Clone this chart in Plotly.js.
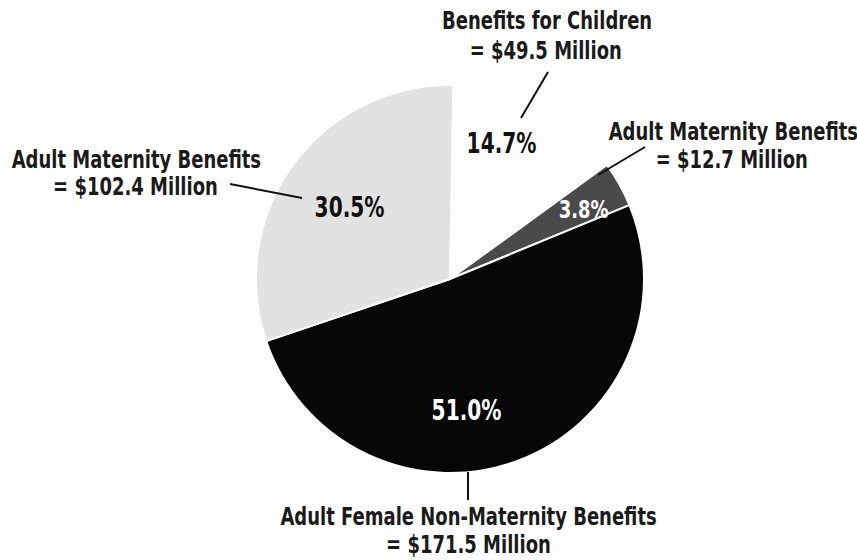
<!DOCTYPE html>
<html>
<head>
<meta charset="utf-8">
<script src="https://cdn.plot.ly/plotly-3.0.1.min.js"></script>
<style>
html,body{margin:0;padding:0;background:#fff;}
#chart{width:857px;height:560px;}
/* condensed look of the original lettering */
#chart .annotation-text{transform-box:fill-box;transform-origin:center;transform:scaleX(0.72);}
</style>
</head>
<body>
<div id="chart"></div>
<script>
// Data (clockwise order starting just right of 12 o'clock)
const labels = ["Benefits for Children", "Adult Maternity Benefits", "Adult Female Non-Maternity Benefits", "Adult Maternity Benefits"];
const valuesMillions = [49.5, 12.7, 171.5, 102.4];
const sliceColors = ["#fdfdfd", "#4a4a4a", "#060606", "#e2e2e2"];

const W = 857, H = 560;
const FONT = "DejaVu Sans, sans-serif";
const total = valuesMillions.reduce((a, b) => a + b, 0);
const pct = valuesMillions.map(v => (v / total * 100).toFixed(1) + "%");

// pie geometry (pixels)
const cx = 450, cy = 279, r = 194;
const px = x => x / W, py = y => 1 - y / H;

const trace = {
  type: "pie",
  labels: labels.map((l, i) => l + " " + i),
  values: valuesMillions,
  sort: false,
  direction: "clockwise",
  rotation: 1,
  textinfo: "none",
  hoverinfo: "label+value+percent",
  marker: { colors: sliceColors, line: { color: "#ffffff", width: 2 } },
  domain: { x: [px(cx - r), px(cx + r)], y: [py(cy + r), py(cy - r)] },
  showlegend: false
};

// label placements: line1 center, line2 center, percent center, percent size, percent color, leader line
const place = [
  { l1: [547, 21], l2: [546, 50], p: [501, 143], ps: 28, pc: "#111", lead: [[548, 72], [521, 118]] },
  { l1: [733, 131], l2: [732, 159], p: [583, 209], ps: 25, pc: "#ffffff", lead: [[645, 147], [598, 175]] },
  { l1: [468, 516], l2: [468, 544], p: [466, 410], ps: 28, pc: "#ffffff", lead: [[468, 472], [468, 500]] },
  { l1: [136, 159], l2: [135, 187], p: [349, 207], ps: 28, pc: "#111", lead: [[230, 184], [302, 198]] }
];

const annotations = [];
const shapes = [];
labels.forEach((lab, i) => {
  const pl = place[i];
  const f = { family: FONT, size: 25, color: "#1a1a1a", weight: 700 };
  annotations.push({ xref: "paper", yref: "paper", x: px(pl.l1[0]), y: py(pl.l1[1]), xanchor: "center", yanchor: "middle", showarrow: false, text: lab, font: f });
  annotations.push({ xref: "paper", yref: "paper", x: px(pl.l2[0]), y: py(pl.l2[1]), xanchor: "center", yanchor: "middle", showarrow: false, text: "= $" + valuesMillions[i].toFixed(1) + " Million", font: f });
  annotations.push({ xref: "paper", yref: "paper", x: px(pl.p[0]), y: py(pl.p[1]), xanchor: "center", yanchor: "middle", showarrow: false, text: pct[i], font: { family: FONT, size: pl.ps, color: pl.pc, weight: 700 } });
  shapes.push({ type: "line", xref: "paper", yref: "paper", x0: px(pl.lead[0][0]), y0: py(pl.lead[0][1]), x1: px(pl.lead[1][0]), y1: py(pl.lead[1][1]), line: { color: "#111", width: 2 } });
});

const layout = {
  width: W, height: H,
  margin: { l: 0, r: 0, t: 0, b: 0 },
  paper_bgcolor: "#ffffff",
  plot_bgcolor: "#ffffff",
  annotations: annotations,
  shapes: shapes,
  showlegend: false
};

Plotly.newPlot("chart", [trace], layout, { displayModeBar: false, staticPlot: true });
</script>
</body>
</html>
